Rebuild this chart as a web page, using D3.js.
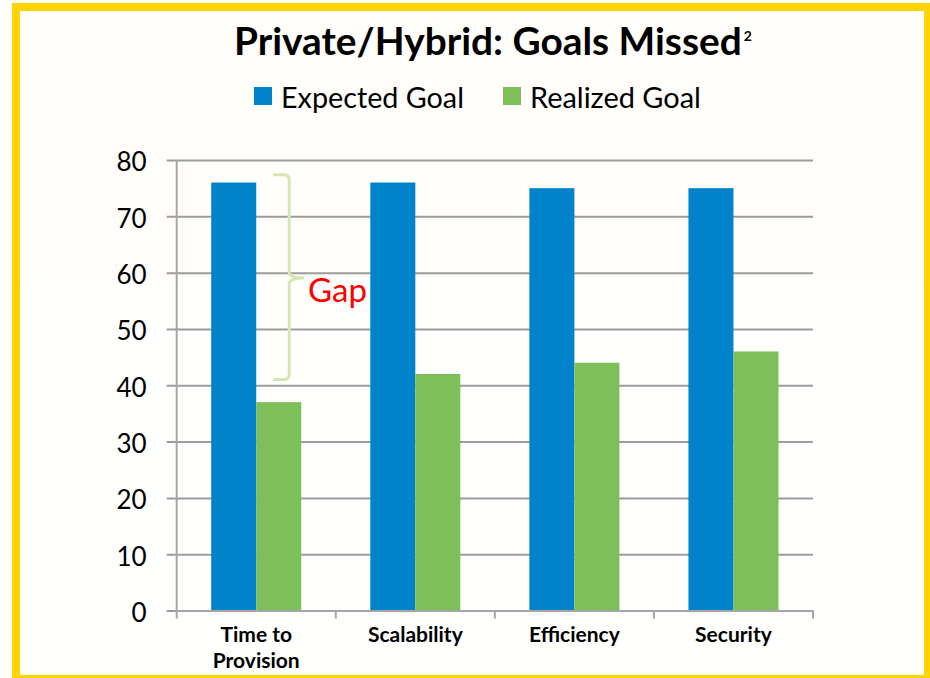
<!DOCTYPE html>
<html>
<head>
<meta charset="utf-8">
<script src="https://cdn.jsdelivr.net/npm/d3@7"></script>
<style>
  body { margin: 0; background: #fffefa; }
  svg { display: block; }
  text { font-family: Lato, "Open Sans", sans-serif; }
</style>
</head>
<body>
<script>
// chart data
var categories = ["Time to\nProvision", "Scalability", "Efficiency", "Security"];
var series = ["Expected Goal", "Realized Goal"];
var expected = [76, 76, 75, 75];
var realized = [37, 42, 44, 46];
var yTicks = [0, 10, 20, 30, 40, 50, 60, 70, 80];
var colors = ["#0083cb", "#7dbf58"];

// the "Gap" bracket spans these values on the first category
var gapTop = 77.4, gapBottom = 41;

var W = 930, H = 678;
var plotL = 176.7, plotR = 813, plotT = 160, plotB = 610.5;

var svg = d3.select("body").append("svg")
  .attr("width", W)
  .attr("height", H);

// background + yellow frame
svg.append("rect").attr("width", W).attr("height", H).attr("fill", "#fffefa");
svg.append("rect").attr("x", 12).attr("y", 3).attr("width", 930).attr("height", 690).attr("fill", "#ffd400");
svg.append("rect").attr("x", 20).attr("y", 11).attr("width", 904).attr("height", 664).attr("fill", "#fffefa");
svg.append("rect").attr("x", 20).attr("y", 283).attr("width", 904).attr("height", 392).attr("fill", "#fffffe");

// fit a text element to a given width
function fitText(sel, width) {
  sel.style("font-size", "100px");
  var w = sel.node().getComputedTextLength();
  sel.style("font-size", (100 * width / w) + "px");
}

// title
var title = svg.append("text")
  .attr("x", 234)
  .attr("y", 54.5)
  .attr("font-weight", "bold")
  .attr("fill", "#000")
  .text("Private/Hybrid: Goals Missed");
fitText(title, 508);
var tEnd = 234 + title.node().getComputedTextLength();
svg.append("text")
  .attr("x", tEnd + 2)
  .attr("y", 41)
  .attr("font-weight", "bold")
  .attr("font-size", 14)
  .text("2");

// legend
var legendX = [254, 503];
var legendW = [183, 171];
series.forEach(function (s, i) {
  svg.append("rect")
    .attr("x", legendX[i])
    .attr("y", 87)
    .attr("width", 18)
    .attr("height", 18)
    .attr("fill", colors[i]);
  var t = svg.append("text")
    .attr("x", legendX[i] + 27)
    .attr("y", 108)
    .attr("fill", "#000")
    .text(s);
  fitText(t, legendW[i]);
});

// scales
var x0 = d3.scaleBand().domain(categories).range([plotL, plotR]).padding(0);
var x1 = d3.scaleBand().domain(series).range([0, x0.bandwidth()]).paddingInner(0).paddingOuter(0.767);
var y = d3.scaleLinear().domain([0, 80]).range([plotB, plotT]);

// gridlines + y labels
var yAxis = d3.axisLeft(y)
  .tickValues(yTicks)
  .tickSize(-(plotR - plotL + 10))
  .tickPadding(20);

var gy = svg.append("g")
  .attr("transform", "translate(" + (plotL - 10) + ",0)")
  .call(yAxis);
gy.select(".domain").remove();
gy.selectAll(".tick line")
  .attr("stroke", "#9c9c9c")
  .attr("stroke-width", 2);
gy.selectAll(".tick text")
  .attr("fill", "#000")
  .attr("font-size", 26)
  .attr("dy", "0.42em")
  .style("font-family", "Lato, 'Open Sans', sans-serif");

// y axis line
svg.append("line")
  .attr("x1", plotL).attr("x2", plotL)
  .attr("y1", plotT).attr("y2", plotB)
  .attr("stroke", "#a6a6a6")
  .attr("stroke-width", 2);

// bars
var rows = categories.map(function (c, i) {
  return { cat: c, values: [expected[i], realized[i]] };
});

var groups = svg.selectAll(".grp")
  .data(rows)
  .enter().append("g")
  .attr("transform", function (d) { return "translate(" + x0(d.cat) + ",0)"; });

groups.selectAll("rect")
  .data(function (d) { return d.values.map(function (v, j) { return { s: series[j], v: v, j: j }; }); })
  .enter().append("rect")
  .attr("x", function (d) { return x1(d.s); })
  .attr("y", function (d) { return y(d.v); })
  .attr("width", x1.bandwidth())
  .attr("height", function (d) { return y(0) - y(d.v); })
  .attr("fill", function (d) { return colors[d.j]; });

// x axis
var xAxis = d3.axisBottom(x0).tickSize(0).tickFormat("");
var gx = svg.append("g")
  .attr("transform", "translate(0," + plotB + ")")
  .call(xAxis);
gx.select(".domain").attr("stroke", "#a6a6a6").attr("stroke-width", 2);

// tick marks at category boundaries
var bounds = categories.map(function (c) { return x0(c); }).concat([plotR]);
svg.selectAll(".xtick")
  .data(bounds)
  .enter().append("line")
  .attr("x1", function (d) { return d; })
  .attr("x2", function (d) { return d; })
  .attr("y1", plotB)
  .attr("y2", plotB + 8)
  .attr("stroke", "#a6a6a6")
  .attr("stroke-width", 2);

// category labels
categories.forEach(function (c) {
  var cx = x0(c) + x0.bandwidth() / 2;
  var t = svg.append("text")
    .attr("x", cx)
    .attr("y", 642)
    .attr("text-anchor", "middle")
    .attr("font-weight", "bold")
    .attr("font-size", 21)
    .attr("fill", "#000");
  c.split("\n").forEach(function (line, k) {
    t.append("tspan")
      .attr("x", cx)
      .attr("dy", k === 0 ? 0 : 26)
      .text(line);
  });
});

// gap bracket
var bx = x0(categories[0]) + x1("Realized Goal") + x1.bandwidth() - 12;
var yT = y(gapTop), yB = y(gapBottom), yM = 278;
var brace = d3.path();
brace.moveTo(bx - 16, yT);
brace.lineTo(bx - 5, yT);
brace.quadraticCurveTo(bx, yT, bx, yT + 5);
brace.lineTo(bx, yM - 5);
brace.quadraticCurveTo(bx + 1, yM, bx + 15, yM);
brace.moveTo(bx + 15, yM);
brace.quadraticCurveTo(bx + 1, yM, bx, yM + 5);
brace.lineTo(bx, yB - 5);
brace.quadraticCurveTo(bx, yB, bx - 5, yB);
brace.lineTo(bx - 16, yB);
svg.append("path")
  .attr("d", brace.toString())
  .attr("fill", "none")
  .attr("stroke", "#d5e6b5")
  .attr("stroke-width", 3);

svg.append("text")
  .attr("x", 308)
  .attr("y", 302)
  .attr("fill", "#ff0000")
  .attr("font-size", 33)
  .text("Gap");
</script>
</body>
</html>
